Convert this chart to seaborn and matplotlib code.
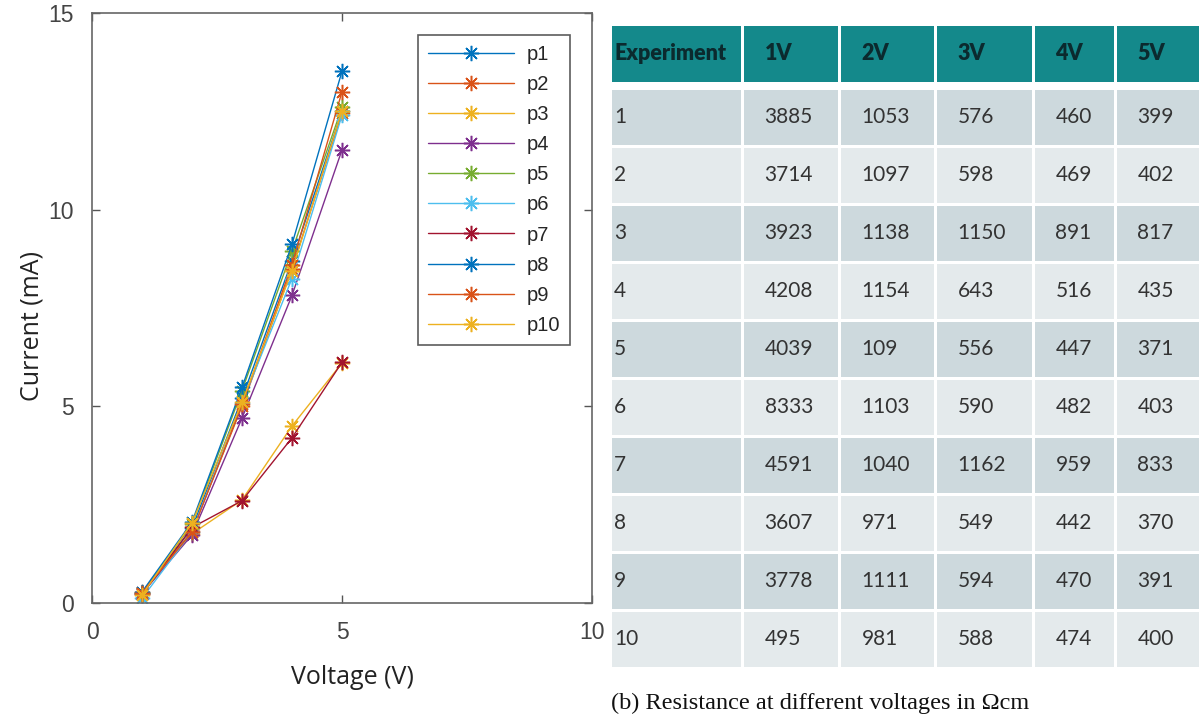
import matplotlib
matplotlib.use("Agg")
import matplotlib.pyplot as plt
from matplotlib.patches import Rectangle
import seaborn as sns
import pandas as pd

# ---------------- data ----------------
voltages = [1, 2, 3, 4, 5]
series_names = ["p1", "p2", "p3", "p4", "p5", "p6", "p7", "p8", "p9", "p10"]
p1 = [0.26, 1.90, 5.20, 8.70, 12.50]
p2 = [0.27, 1.82, 5.00, 8.50, 12.45]
p3 = [0.25, 1.76, 2.62, 4.50, 6.10]
p4 = [0.24, 1.73, 4.70, 7.82, 11.52]
p5 = [0.25, 2.00, 5.40, 8.95, 12.60]
p6 = [0.12, 1.81, 5.08, 8.25, 12.40]
p7 = [0.22, 1.92, 2.60, 4.20, 6.12]
p8 = [0.28, 2.06, 5.48, 9.12, 13.52]
p9 = [0.26, 1.80, 5.05, 8.60, 13.00]
p10 = [0.20, 2.04, 5.10, 8.45, 12.52]
series_values = [p1, p2, p3, p4, p5, p6, p7, p8, p9, p10]

table_header = ["Experiment", "1V", "2V", "3V", "4V", "5V"]
experiments = ["1", "2", "3", "4", "5", "6", "7", "8", "9", "10"]
res_1V = [3885, 3714, 3923, 4208, 4039, 8333, 4591, 3607, 3778, 495]
res_2V = [1053, 1097, 1138, 1154, 109, 1103, 1040, 971, 1111, 981]
res_3V = [576, 598, 1150, 643, 556, 590, 1162, 549, 594, 588]
res_4V = [460, 469, 891, 516, 447, 482, 959, 442, 470, 474]
res_5V = [399, 402, 817, 435, 371, 403, 833, 370, 391, 400]
caption = "(b) Resistance at different voltages in Ωcm"

# MATLAB default line colours
palette = ["#0072BD", "#D95319", "#EDB120", "#7E2F8E", "#77AC30",
           "#4DBEEE", "#A2142F", "#0072BD", "#D95319", "#EDB120"]

rows = []
for name, vals in zip(series_names, series_values):
    for v, c in zip(voltages, vals):
        rows.append({"series": name, "Voltage": v, "Current": c})
df = pd.DataFrame(rows)

# ---------------- figure ----------------
W, H = 1203, 717
sns.set_theme(style="white")
plt.rcParams["font.family"] = ["DejaVu Sans"]
fig = plt.figure(figsize=(W / 100, H / 100), dpi=100)
fig.patch.set_facecolor("white")

ax = fig.add_axes([92 / W, 1 - 603 / H, 500 / W, 590 / H])
sns.lineplot(data=df, x="Voltage", y="Current", hue="series",
             hue_order=series_names, palette=palette, sort=False,
             marker=(8, 2, 0), markersize=11, markeredgewidth=1.1,
             linewidth=1.0, legend=False, ax=ax, estimator=None)
for line in ax.get_lines():
    line.set_markeredgecolor(line.get_color())
    line.set_markerfacecolor(line.get_color())

ax.set_xlim(0, 10)
ax.set_ylim(0, 15)
ax.set_xticks([0, 5, 10])
ax.set_yticks([0, 5, 10, 15])
ax.tick_params(direction="in", length=6, width=1, color="#555555",
               top=True, right=True, bottom=True, left=True,
               labelsize=16.5, labelcolor="#444444")
ax.tick_params(axis="x", pad=13)
ax.tick_params(axis="y", pad=13)
for lab in ax.get_xticklabels() + ax.get_yticklabels():
    lab.set_family("Liberation Sans")
for s in ax.spines.values():
    s.set_color("#666666")
    s.set_linewidth(1.2)
ax.set_xlabel("Voltage (V)", fontsize=18, family="Open Sans",
              color="#222222")
ax.set_ylabel("Current (mA)", fontsize=18, family="Open Sans",
              color="#222222")
ax.xaxis.set_label_coords(0.52, -0.105)
ax.yaxis.set_label_coords(-0.095, 0.47)

handles = ax.get_lines()[:len(series_names)]
leg = ax.legend(handles, series_names, loc="upper right",
                bbox_to_anchor=((570 - 92) / 500, 1 - (35 - 13) / 590),
                borderaxespad=0, frameon=True, fancybox=False,
                handlelength=4.3, labelspacing=0.55, borderpad=0.5,
                handletextpad=0.6,
                prop={"family": "Liberation Sans", "size": 14.5})
leg.get_frame().set_edgecolor("#333333")
leg.get_frame().set_linewidth(1.2)

# ---------------- table ----------------
tx0, tx1, ty0, ty1 = 605, 1203, 20, 717
axt = fig.add_axes([tx0 / W, 1 - ty1 / H, (tx1 - tx0) / W, (ty1 - ty0) / H])
axt.set_xlim(tx0, tx1)
axt.set_ylim(ty1, ty0)
axt.axis("off")

col_edges = [612, 742, 839, 935, 1033, 1115, 1199]
gap = 3
header_top, header_bot = 26, 82
row_top0, row_bot_last = 90, 667
n = len(experiments)
pitch = (row_bot_last - row_top0 + gap) / n
header_col = "#14898B"
odd_col = "#CDD9DD"
even_col = "#E4EAEC"
text_col = "#333333"

for j, h in enumerate(table_header):
    x0 = col_edges[j] + (gap / 2 if j > 0 else 0)
    x1 = col_edges[j + 1] - (gap / 2 if j < 5 else 0)
    axt.add_patch(Rectangle((x0, header_top), x1 - x0, header_bot - header_top,
                            facecolor=header_col, edgecolor="none"))
    pad = 2 if j == 0 else 21
    axt.text(x0 + pad, (header_top + header_bot) / 2, h, ha="left",
             va="center", fontsize=15.5, fontweight="heavy", family="Lato",
             color="#0B2A2E")

columns = [experiments, res_1V, res_2V, res_3V, res_4V, res_5V]
for i in range(n):
    top = row_top0 + i * pitch
    bot = top + pitch - gap
    fc = odd_col if i % 2 == 0 else even_col
    for j, col in enumerate(columns):
        x0 = col_edges[j] + (gap / 2 if j > 0 else 0)
        x1 = col_edges[j + 1] - (gap / 2 if j < 5 else 0)
        axt.add_patch(Rectangle((x0, top), x1 - x0, bot - top,
                                facecolor=fc, edgecolor="none"))
        pad = 2 if j == 0 else 21
        axt.text(x0 + pad, (top + bot) / 2, str(col[i]), ha="left",
                 va="center", fontsize=15, family="Lato", color=text_col)

axt.text(611, 703, caption, ha="left", va="center", fontsize=17.5,
         family="Liberation Serif", color="#111111")

fig.savefig("out.png", dpi=100, facecolor="white")
